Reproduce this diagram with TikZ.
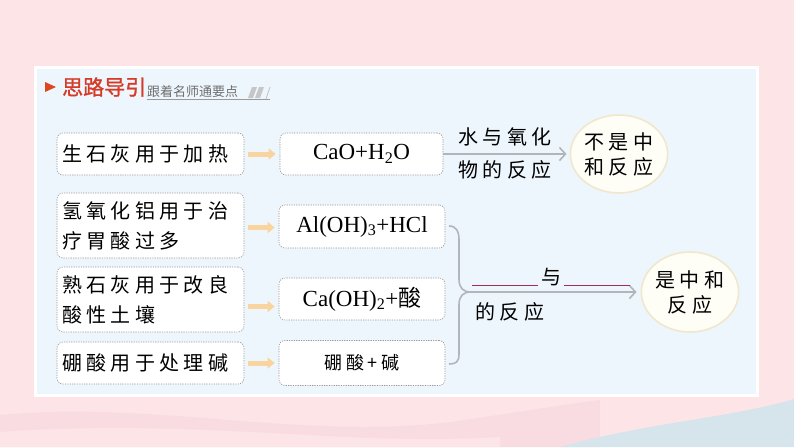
\documentclass[tikz,border=0pt]{standalone}
\usepackage{fontspec}
\setmainfont{Liberation Serif}
\newfontfamily\cjk[LetterSpace=22]{Noto Sans CJK SC}
\newfontfamily\cjkh[FakeBold=1.2]{Noto Sans CJK SC}
\newfontfamily\cjks{Noto Sans CJK SC}
\usetikzlibrary{arrows.meta,calc,shapes.geometric}
\definecolor{bgpink}{RGB}{253,229,231}
\definecolor{bgpink2}{RGB}{249,220,225}
\definecolor{bgblue}{RGB}{214,228,236}
\definecolor{panel}{RGB}{238,246,253}
\definecolor{hred}{RGB}{214,58,38}
\definecolor{hgrey}{RGB}{110,110,110}
\definecolor{boxline}{RGB}{150,150,150}
\definecolor{orng}{RGB}{250,212,158}
\definecolor{gline}{RGB}{178,181,186}
\definecolor{ellfill}{RGB}{254,253,246}
\definecolor{elline}{RGB}{240,232,204}
\definecolor{blank}{RGB}{165,45,85}
\tikzset{
  stepbox/.style={draw=boxline, line width=0.6pt, dash pattern=on 1.2pt off 1.2pt,
    rounded corners=6pt, fill=white, inner sep=0pt, align=left},
  cjktext/.style={font=\cjk\fontsize{20}{30}\selectfont},
  oarrow/.style={draw=orng, line width=5pt, -{Triangle[length=7pt,width=11pt]}},
  garrow/.style={draw=gline, line width=1.6pt, -{Straight Barb[length=6pt,width=13pt,line width=1.6pt]}},
  brace/.style={draw=gline, line width=1.6pt},
  endell/.style={ellipse, draw=elline, line width=1.6pt, fill=ellfill, inner sep=0pt, align=center,
    font=\cjk\fontsize{20}{25}\selectfont}
}
\begin{document}
\begin{tikzpicture}[x=1pt,y=-1pt]
\useasboundingbox (0,0) rectangle (794,447);
% background
\fill[bgpink] (0,0) rectangle (794,447);
\fill[bgpink2] (0,415) .. controls (150,400) and (300,440) .. (450,422) .. controls (520,412) and (560,405) .. (600,400) -- (600,447) -- (0,447) -- cycle;
\fill[bgpink] (0,432) .. controls (200,418) and (350,447) .. (500,437) -- (500,447) -- (0,447) -- cycle;
\fill[bgblue] (794,399) .. controls (730,418) and (650,422) .. (560,447) -- (794,447) -- cycle;
% panel
\fill[white] (34,66) rectangle (759,397);
\fill[panel] (37,69) rectangle (756,394);
% header
\fill[hred!80!orange] (45,82) -- (56,87) -- (45,92) -- cycle;
\node[anchor=west, inner sep=0pt, text=hred, font=\cjkh\fontsize{21}{21}\selectfont] (title) at (62,87) {思路导引};
\node[anchor=west, inner sep=0pt, text=hgrey, font=\cjks\fontsize{13}{13}\selectfont] (subtitle) at (147,92) {跟着名师通要点};
\draw[hgrey!70, line width=0.5pt] (147,99.5) -- (270,99.5);
\fill[gray!45] (248,98) -- (252,87) -- (257,87) -- (253,98) -- cycle;
\fill[gray!45] (255,98) -- (259,87) -- (264,87) -- (260,98) -- cycle;
\draw[gray!60, line width=0.6pt] (266,99) -- (270,87);
% left boxes
\node[stepbox, cjktext, minimum width=187pt, minimum height=42pt, text width=177pt] (b1) at (150.5,154) {生石灰用于加热};
\node[stepbox, cjktext, minimum width=187pt, minimum height=65pt, text width=177pt] (b3) at (150.5,225.5) {氢氧化铝用于治\\疗胃酸过多};
\node[stepbox, cjktext, minimum width=187pt, minimum height=65pt, text width=177pt] (b5) at (150.5,299.5) {熟石灰用于改良\\酸性土壤};
\node[stepbox, cjktext, minimum width=187pt, minimum height=42pt, text width=177pt] (b7) at (150.5,363) {硼酸用于处理碱};
% right boxes
\node[stepbox, align=center, minimum width=163pt, minimum height=42pt, font=\fontsize{23}{23}\selectfont] (b2) at (361.5,154) {CaO+H\textsubscript{2}O};
\node[stepbox, align=center, minimum width=166pt, minimum height=43pt, font=\fontsize{23}{23}\selectfont] (b4) at (362,226.5) {Al(OH)\textsubscript{3}+HCl};
\node[stepbox, align=center, minimum width=166pt, minimum height=42pt, font=\fontsize{23}{23}\selectfont] (b6) at (362,299) {Ca(OH)\textsubscript{2}+{\cjks 酸}};
\node[stepbox, align=center, minimum width=166pt, minimum height=45pt, font=\cjk\fontsize{18}{18}\selectfont] (b8) at (362,363) {硼酸+碱};
% orange arrows
\draw[oarrow, shorten <=4pt, shorten >=4pt] (b1.east) -- (b1.east -| b2.west);
\draw[oarrow, shorten <=4pt, shorten >=4pt] ($(b3.east)+(0,2)$) -- ($(b3.east -| b4.west)+(0,2)$);
\draw[oarrow, shorten <=4pt, shorten >=4pt] ($(b5.east)+(0,7)$) -- ($(b5.east -| b6.west)+(0,7)$);
\draw[oarrow, shorten <=4pt, shorten >=4pt] (b7.east) -- (b7.east -| b8.west);
% ellipses
\node[endell, minimum width=94pt, minimum height=78pt] (e1) at (619,154) {不是中\\和反应};
\node[endell, minimum width=86pt, minimum height=80pt] (e2) at (690,292) {是中和\\反应};
% top gray arrow with labels
\draw[garrow, shorten >=3pt] (b2.east) -- (e1.west);
\node[cjktext, inner sep=0pt] (l1) at (505,137) {水与氧化};
\node[cjktext, inner sep=0pt] (l2) at (505,170) {物的反应};
% brace
\coordinate (bt) at (449,226);
\coordinate (bp) at (471,292);
\coordinate (bb) at (449,364);
\draw[brace] (bt) .. controls (456,226) and (459,231) .. (459,240) -- (459,279) .. controls (459,288) and (463,292) .. (bp);
\draw[brace] (bp) .. controls (463,292) and (459,296) .. (459,305) -- (459,354) .. controls (459,362) and (456,364) .. (bb);
\draw[garrow, shorten >=4pt] (bp) -- (e2.west);
\node[inner sep=0pt, anchor=base, font=\cjks\fontsize{20}{20}\selectfont] (blanks) at (551,284) {\textcolor{blank}{\rule[-2pt]{66pt}{1.3pt}}\hspace{3pt}与\hspace{3pt}\textcolor{blank}{\rule[-2pt]{66pt}{1.3pt}}};
\node[cjktext, inner sep=0pt] (l3) at (510,312) {的反应};
\end{tikzpicture}
\end{document}
